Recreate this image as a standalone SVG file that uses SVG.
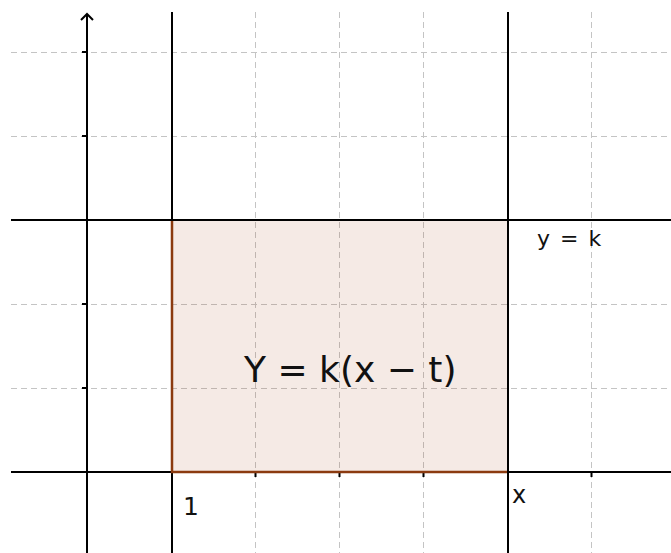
<svg xmlns="http://www.w3.org/2000/svg" width="671" height="553" viewBox="0 0 671 553">
  <style>
    .grid { stroke: #c4c4c4; stroke-width: 1; stroke-dasharray: 6 4; fill: none; }
    .axis { stroke: #000000; stroke-width: 2; fill: none; }
    .line { stroke: #000000; stroke-width: 2; fill: none; }
    .lbl { font-family: "DejaVu Sans", "Liberation Sans", sans-serif; fill: #111111; }
  </style>
  <rect width="671" height="553" fill="#ffffff"/>
  <g id="grid">
    <path class="grid" d="M11 52.5H671 M11 136.5H671 M11 304.5H671 M11 388.5H671"/>
    <path class="grid" d="M255.5 12V553 M339.5 12V553 M423.5 12V553 M591.5 12V553"/>
  </g>
  <g id="region">
    <rect x="172" y="220" width="336" height="252" fill="#993300" fill-opacity="0.1" stroke="none"/>
  </g>
  <g id="connectors">
    <g id="axes">
      <path class="axis" d="M11 472H671"/>
      <path class="axis" d="M87 14V553"/>
      <path class="axis" d="M81 20L87 14L93 20"/>
      <path class="axis" d="M82 52H87 M82 136H87 M82 220H87 M82 304H87 M82 388H87"/>
      <path class="axis" d="M255.5 472V477 M339.5 472V477 M423.5 472V477 M591.5 472V477"/>
    </g>
    <path id="line-x1" class="line" d="M172 12V553"/>
    <path id="region-edge" d="M172 220V472H508" stroke="#8b3a0f" stroke-width="2.5" fill="none"/>
    <path id="line-yk" class="line" d="M11 220H671"/>
    <path id="line-xx" class="line" d="M508 12V553"/>
  </g>
  <g id="label-area"><text class="lbl" x="244" y="382" font-size="36">Y = k(x − t)</text></g>
  <g id="label-yk"><text class="lbl" x="537" y="246" font-size="22" word-spacing="3">y = k</text></g>
  <g id="label-1"><text class="lbl" x="183" y="515" font-size="25">1</text></g>
  <g id="label-x"><text class="lbl" x="512" y="503" font-size="24">x</text></g>
</svg>
